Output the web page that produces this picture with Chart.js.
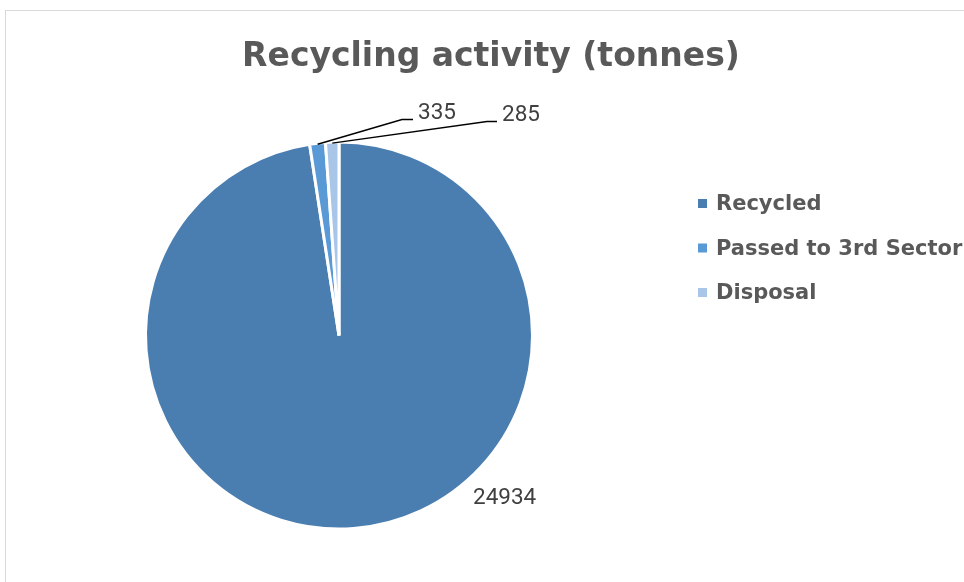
<!DOCTYPE html>
<html>
<head>
<meta charset="utf-8">
<script src="https://cdn.jsdelivr.net/npm/chart.js@4"></script>
<style>
  html, body { margin: 0; padding: 0; background: #ffffff; }
  #wrap { position: relative; width: 964px; height: 582px; }
  #frame { position: absolute; left: 5px; top: 10px; width: 980px; height: 600px;
           border: 1px solid #d9d9d9; box-sizing: border-box; }
  canvas { position: absolute; left: 0; top: 0; }
</style>
</head>
<body>
<div id="wrap">
  <div id="frame"></div>
  <canvas id="c" width="964" height="582"></canvas>
</div>
<script>
// Recycling activity breakdown, tonnes
const categories = ['Recycled', 'Passed to 3rd Sector', 'Disposal'];
const tonnes = [24934, 335, 285];
const sliceColors = ['#4a7eb1', '#5899d6', '#a9c5e8'];

const titleText = 'Recycling activity (tonnes)';
const textGrey = '#595959';
const labelGrey = '#404040';

// label placement: elbow point and text anchor relative to pie centre
const labelLayout = [
  { leader: false, tx: 134, ty: 163 },
  { leader: true, ex: 63, ey: -216, hx: 74, tx: 79, ty: -222 },
  { leader: true, ex: 148, ey: -214, hx: 158, tx: 163, ty: -220 }
];

const pieDecor = {
  id: 'pieDecor',
  afterDraw(chart) {
    const ctx = chart.ctx;
    const meta = chart.getDatasetMeta(0);
    const values = chart.data.datasets[0].data;
    ctx.save();
    // title
    ctx.fillStyle = textGrey;
    ctx.font = 'bold 33px "DejaVu Sans"';
    ctx.textAlign = 'center';
    ctx.textBaseline = 'middle';
    ctx.fillText(titleText, 491, 57);

    // data labels with leader lines
    ctx.font = '22.5px Roboto';
    ctx.textAlign = 'left';
    meta.data.forEach((arc, i) => {
      const cx = arc.x, cy = arc.y;
      const mid = (arc.startAngle + arc.endAngle) / 2;
      const r = arc.outerRadius;
      const L = labelLayout[i];
      if (L.leader) {
        const sx = cx + Math.cos(mid) * (r - 1);
        const sy = cy + Math.sin(mid) * (r - 1);
        ctx.strokeStyle = '#000000';
        ctx.lineWidth = 1.5;
        ctx.beginPath();
        ctx.moveTo(sx, sy);
        ctx.lineTo(cx + L.ex, cy + L.ey);
        ctx.lineTo(cx + L.hx, cy + L.ey);
        ctx.stroke();
      }
      ctx.fillStyle = labelGrey;
      ctx.textBaseline = 'middle';
      ctx.fillText(String(values[i]), cx + L.tx, cy + L.ty);
    });

    // legend
    ctx.font = 'bold 21px "DejaVu Sans"';
    ctx.textBaseline = 'middle';
    chart.data.labels.forEach((lab, i) => {
      const y = 203 + i * 44.5;
      ctx.fillStyle = sliceColors[i];
      ctx.fillRect(698, y - 4, 9, 9);
      ctx.fillStyle = textGrey;
      ctx.fillText(lab, 716, y + 2);
    });
    ctx.restore();
  }
};

new Chart(document.getElementById('c'), {
  type: 'pie',
  data: {
    labels: categories,
    datasets: [{
      data: tonnes,
      backgroundColor: sliceColors,
      borderColor: '#ffffff',
      borderWidth: 3,
      hoverOffset: 0
    }]
  },
  options: {
    responsive: false,
    animation: false,
    events: [],
    layout: { padding: { left: 144, right: 430, top: 140, bottom: 51 } },
    plugins: {
      legend: { display: false },
      title: { display: false },
      tooltip: { enabled: false }
    }
  },
  plugins: [pieDecor]
});
</script>
</body>
</html>
